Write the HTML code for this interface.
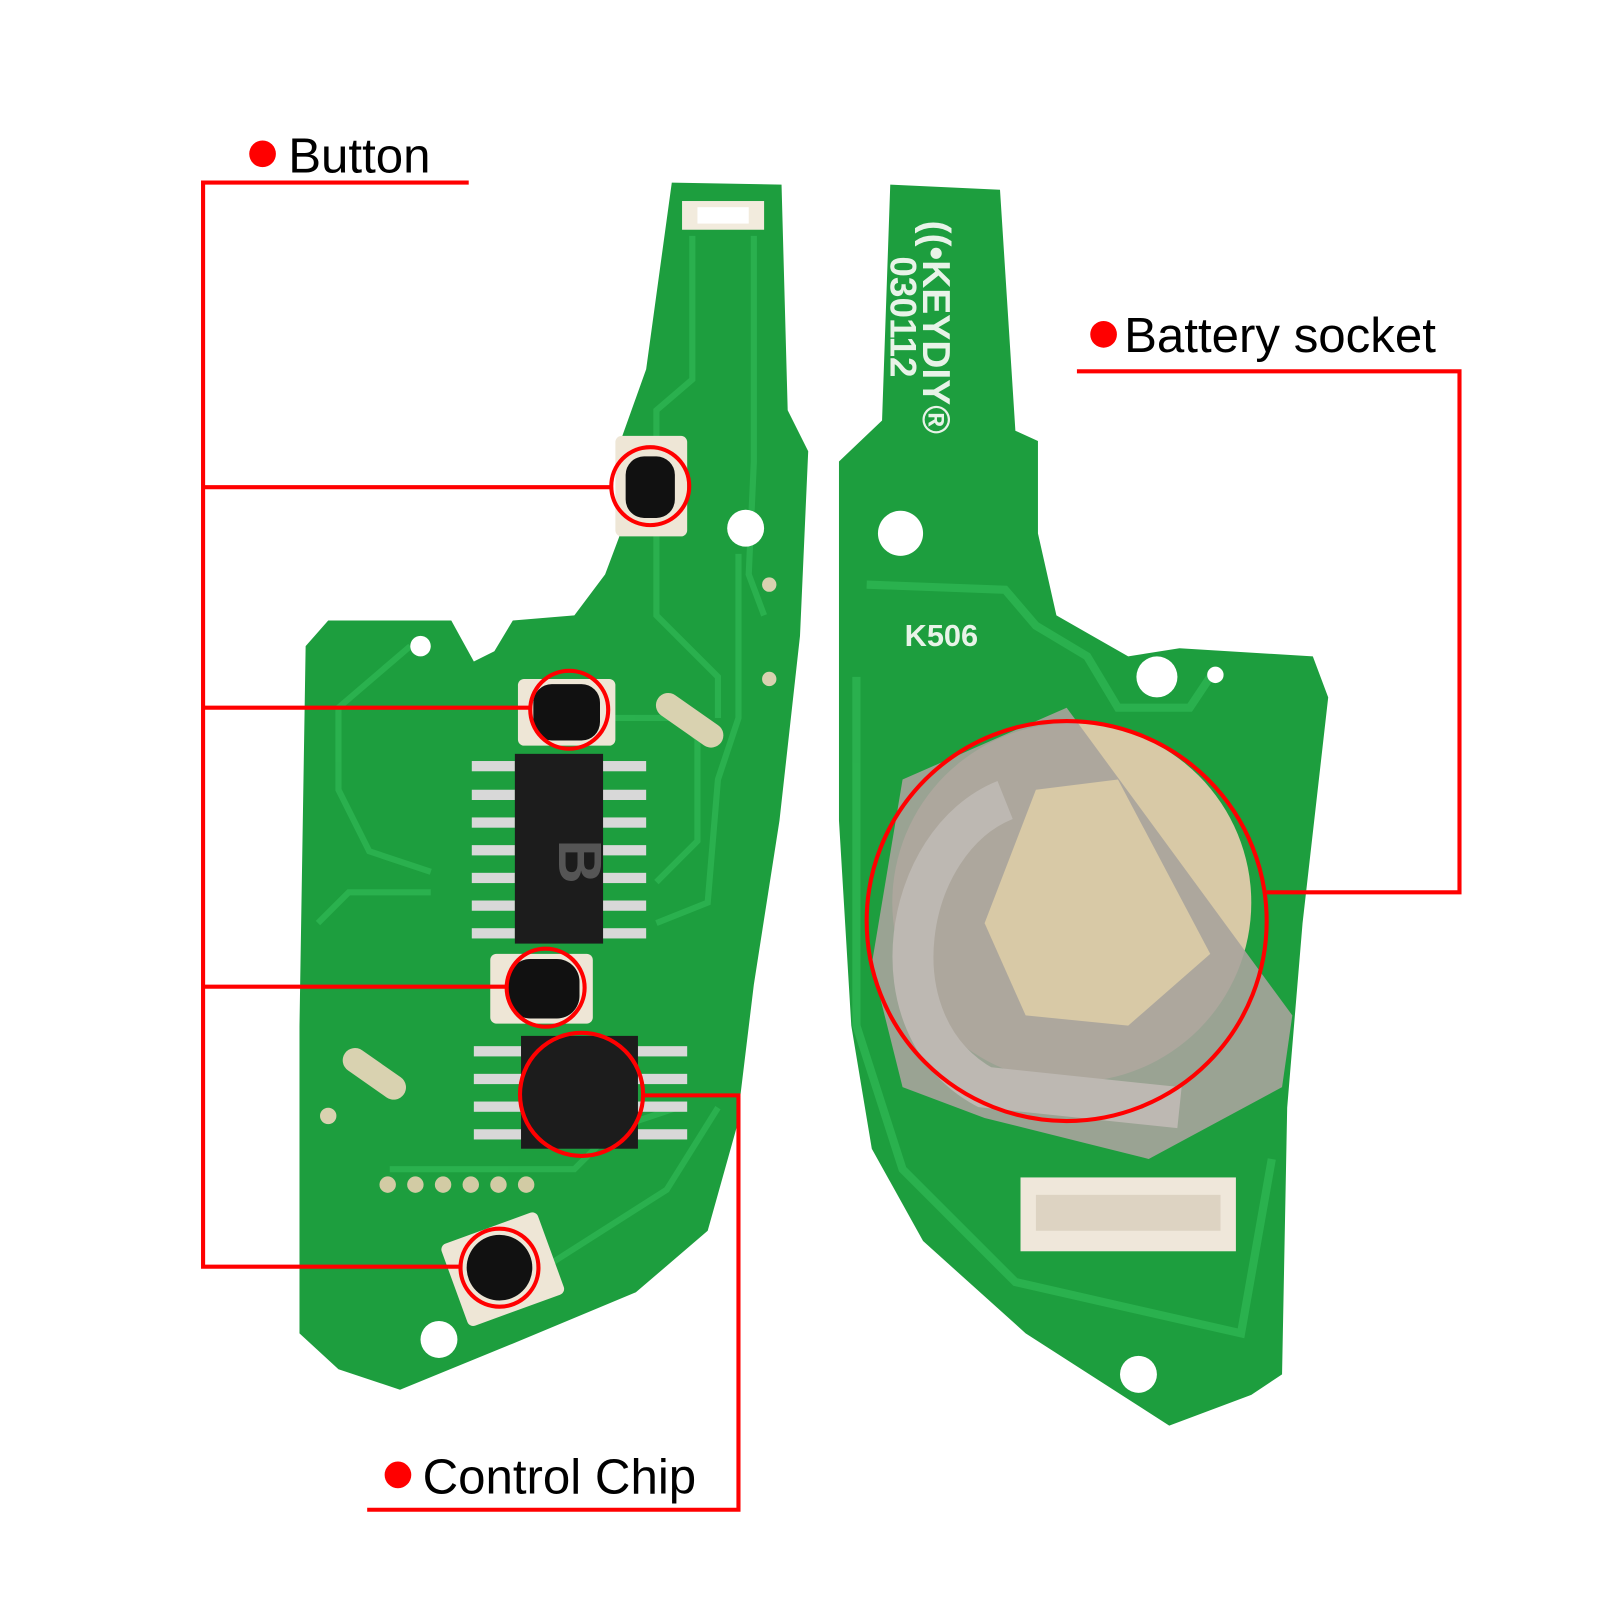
<!DOCTYPE html>
<html><head><meta charset="utf-8"><style>
html,body{margin:0;padding:0;background:#fff;width:1600px;height:1600px;overflow:hidden}
svg{display:block}
text{font-family:"Liberation Sans",sans-serif}
</style></head><body>
<svg width="1600" height="1600" viewBox="0 0 1560 1560" xmlns="http://www.w3.org/2000/svg">
<rect width="1560" height="1560" fill="#fff"/>
<!-- Left PCB -->
<path d="M655,178 L762,180 L768,400 L788,440 L780,620 L760,800 L735,960 L718,1100 L690,1200 L620,1260 L500,1310 L390,1355 L330,1335 L292,1300 L292,1000 L298,630 L320,605 L440,605 L462,645 L482,635 L500,605 L560,600 L590,560 L605,520 L605,430 L630,360 Z" fill="#1d9e3e"/>
<g fill="none" stroke="#2eb553" stroke-width="6" opacity="0.8">
<path d="M675,230 L675,370 L640,400 L640,500 L640,600 L700,660 L700,700"/>
<path d="M735,230 L735,450 L730,560 L745,600"/>
<path d="M400,630 L330,690 L330,770 L360,830 L420,850"/>
<path d="M310,900 L340,870 L420,870"/>
<path d="M600,700 L660,700 L680,720 L680,820 L640,860"/>
<path d="M720,540 L720,700 L700,760 L690,880 L640,900"/>
<path d="M380,1140 L560,1140 L600,1100 L660,1080"/>
<path d="M540,1230 L650,1160 L700,1080"/>
</g>
<rect x="665" y="196" width="80" height="28" fill="#f2ebdd"/>
<rect x="680" y="202" width="50" height="16" fill="#fff"/>
<circle cx="727" cy="515" r="18" fill="#fff"/>
<circle cx="410" cy="630" r="10" fill="#fff"/>
<circle cx="428" cy="1306" r="18" fill="#fff"/>
<circle cx="320" cy="1088" r="8" fill="#d9d2b0"/>
<circle cx="750" cy="570" r="7" fill="#d9d2b0"/>
<circle cx="750" cy="662" r="7" fill="#d9d2b0"/>
<!-- buttons -->
<rect x="600" y="425" width="70" height="98" rx="6" fill="#eee6d6"/>
<rect x="610" y="445" width="48" height="60" rx="18" fill="#111"/>
<rect x="505" y="662" width="95" height="65" rx="6" fill="#eee6d6"/>
<rect x="520" y="667" width="65" height="55" rx="18" fill="#111"/>
<rect x="478" y="930" width="100" height="68" rx="6" fill="#eee6d6"/>
<rect x="495" y="935" width="70" height="58" rx="22" fill="#111"/>
<rect x="440" y="1195" width="100" height="85" rx="6" fill="#eee6d6" transform="rotate(-20 490 1237)"/>
<circle cx="487" cy="1236" r="32" fill="#111"/>
<!-- chip B -->
<g fill="#d8d8d8">
<rect x="460" y="742" width="42" height="10"/><rect x="460" y="770" width="42" height="10"/><rect x="460" y="797" width="42" height="10"/><rect x="460" y="824" width="42" height="10"/><rect x="460" y="851" width="42" height="10"/><rect x="460" y="878" width="42" height="10"/><rect x="460" y="905" width="42" height="10"/>
<rect x="585" y="742" width="45" height="10"/><rect x="585" y="770" width="45" height="10"/><rect x="585" y="797" width="45" height="10"/><rect x="585" y="824" width="45" height="10"/><rect x="585" y="851" width="45" height="10"/><rect x="585" y="878" width="45" height="10"/><rect x="585" y="905" width="45" height="10"/>
</g>
<rect x="502" y="735" width="86" height="185" fill="#1c1c1c"/>
<text x="545" y="840" font-size="60" font-weight="bold" fill="#555" text-anchor="middle" transform="rotate(90 545 840)">B</text>
<!-- chip 2 -->
<g fill="#d8d8d8">
<rect x="462" y="1020" width="48" height="10"/><rect x="462" y="1047" width="48" height="10"/><rect x="462" y="1074" width="48" height="10"/><rect x="462" y="1101" width="48" height="10"/>
<rect x="620" y="1020" width="50" height="10"/><rect x="620" y="1047" width="50" height="10"/><rect x="620" y="1074" width="50" height="10"/><rect x="620" y="1101" width="50" height="10"/>
</g>
<rect x="508" y="1010" width="114" height="110" fill="#1c1c1c"/>
<g fill="#d2cba4"><circle cx="378" cy="1155" r="8"/><circle cx="405" cy="1155" r="8"/><circle cx="432" cy="1155" r="8"/><circle cx="459" cy="1155" r="8"/><circle cx="486" cy="1155" r="8"/><circle cx="513" cy="1155" r="8"/></g>
<rect x="330" y="1035" width="70" height="24" rx="12" fill="#d9d2b0" transform="rotate(35 365 1047)"/>
<rect x="635" y="690" width="75" height="24" rx="12" fill="#d9d2b0" transform="rotate(35 672 702)"/>
<!-- Right PCB -->
<path d="M868,180 L975,185 L990,420 L1012,430 L1012,520 L1030,600 L1100,640 L1150,632 L1280,640 L1295,680 L1270,900 L1255,1080 L1250,1340 L1220,1360 L1140,1390 L1000,1300 L900,1210 L850,1120 L830,1000 L818,800 L818,450 L860,410 Z" fill="#1d9e3e"/>
<g fill="none" stroke="#2eb553" stroke-width="8" opacity="0.8">
<path d="M845,570 L980,575 L1010,610 L1060,640 L1090,690 L1160,690 L1180,660"/>
<path d="M835,660 L835,1000 L880,1140 L990,1250 L1210,1300 L1240,1130"/>
</g>
<circle cx="878" cy="520" r="22" fill="#fff"/>
<circle cx="1110" cy="1340" r="18" fill="#fff"/>
<circle cx="1128" cy="660" r="20" fill="#fff"/>
<circle cx="1185" cy="658" r="8" fill="#fff"/>
<text x="0" y="0" font-size="38" font-weight="bold" fill="#e8f3e8" transform="translate(900,215) rotate(90)">((•KEYDIY®</text>
<text x="0" y="0" font-size="36" font-weight="bold" fill="#e8f3e8" transform="translate(868,250) rotate(90)">030112</text>
<text x="882" y="630" font-size="30" font-weight="bold" fill="#e8f3e8">K506</text>
<circle cx="1045" cy="880" r="175" fill="#d8c9a6"/>
<path d="M880,760 L1040,690 L1260,990 L1250,1060 L1120,1130 L960,1090 L880,1060 L850,940 Z" fill="#a9a39c" opacity="0.9"/>
<path d="M1010,770 L1090,760 L1180,930 L1100,1000 L1000,990 L960,900 Z" fill="#d8c9a6"/>
<path d="M980,780 C880,820 850,1000 960,1060 L1150,1080" fill="none" stroke="#bdb8b2" stroke-width="40"/>
<rect x="995" y="1148" width="210" height="72" fill="#efe7da"/>
<rect x="1010" y="1165" width="180" height="35" fill="#ddd3c2"/>
<!-- annotations -->
<g fill="none" stroke="#f00" stroke-width="4">
<circle cx="634" cy="474" r="38"/>
<circle cx="555" cy="692" r="38"/>
<circle cx="532" cy="963" r="38"/>
<circle cx="487" cy="1236" r="38"/>
<circle cx="567" cy="1067" r="60"/>
<circle cx="1040" cy="898" r="195"/>
<polyline points="457,178 198,178 198,1235 449,1235"/>
<line x1="198" y1="475" x2="596" y2="475"/>
<line x1="198" y1="690" x2="517" y2="690"/>
<line x1="198" y1="962" x2="494" y2="962"/>
<polyline points="627,1068 720,1068 720,1472 358,1472"/>
<polyline points="1050,362 1423,362 1423,870 1235,870"/>
</g>
<g fill="#f00"><circle cx="256" cy="150" r="13"/><circle cx="1076" cy="326" r="13"/><circle cx="388" cy="1438" r="13"/></g>
<g font-size="48" fill="#000">
<text x="281" y="168">Button</text>
<text x="1096" y="343">Battery socket</text>
<text x="412" y="1456">Control Chip</text>
</g>
</svg>
</body></html>
